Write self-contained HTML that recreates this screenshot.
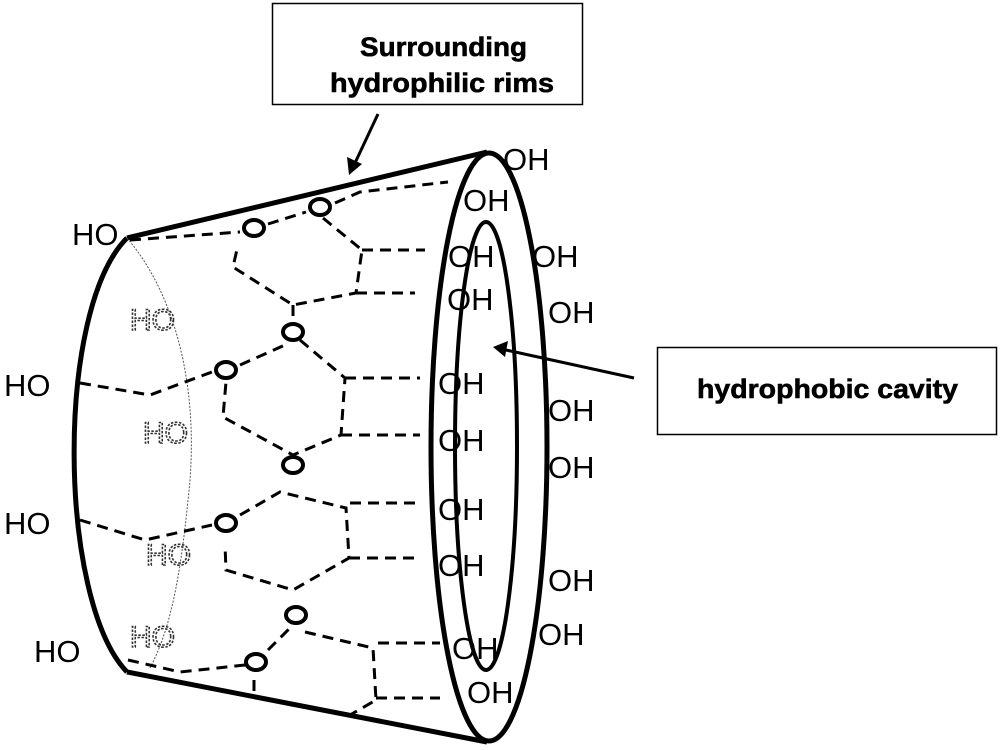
<!DOCTYPE html>
<html><head><meta charset="utf-8"><style>
html,body{margin:0;padding:0;background:#fff;width:1000px;height:750px;overflow:hidden}
svg{display:block}
.t{font-family:"Liberation Sans",sans-serif;font-size:31px;fill:#000}
.d{font-family:"Liberation Sans",sans-serif;font-size:30px;fill:none;stroke:#333;stroke-width:1.6;stroke-dasharray:2.5 1.5}
.b{font-family:"Liberation Sans Narrow","Liberation Sans",sans-serif;font-weight:bold;font-size:27px;fill:#000;stroke:#000;stroke-width:0.6}
.ds{fill:none;stroke:#000;stroke-width:3;stroke-dasharray:11 7}
.o{fill:none;stroke:#000;stroke-width:4}
</style></head><body>
<svg width="1000" height="750" viewBox="0 0 1000 750">
<rect x="272.5" y="3.5" width="310" height="101" fill="#fff" stroke="#000" stroke-width="1.5"/>
<text class="b" x="360" y="56" textLength="167" lengthAdjust="spacingAndGlyphs">Surrounding</text>
<text class="b" x="330" y="92" textLength="224" lengthAdjust="spacingAndGlyphs">hydrophilic rims</text>
<rect x="657.5" y="347.5" width="339" height="87" fill="#fff" stroke="#000" stroke-width="1.5"/>
<text class="b" x="697" y="398" textLength="261" lengthAdjust="spacingAndGlyphs">hydrophobic cavity</text>
<line x1="378" y1="114" x2="355" y2="163" stroke="#000" stroke-width="3"/>
<polygon points="349,175 347,157 362,164" fill="#000"/>
<line x1="634" y1="378" x2="506" y2="350" stroke="#000" stroke-width="3"/>
<polygon points="493,347 508,341 505,357" fill="#000"/>
<path d="M127,238 L487,152" stroke="#000" stroke-width="5" fill="none"/>
<path d="M127,672 L487,742" stroke="#000" stroke-width="5" fill="none"/>
<path d="M127,238 C55,310 58,600 127,672" stroke="#000" stroke-width="5" fill="none"/>
<path d="M127,238 C180,300 200,400 188,500 C180,580 170,630 150,668" stroke="#555" stroke-width="1" stroke-dasharray="2 1.5" fill="none"/>
<ellipse cx="489" cy="447" rx="58" ry="294" fill="none" stroke="#000" stroke-width="5"/>
<ellipse cx="486" cy="446" rx="31" ry="224" fill="none" stroke="#000" stroke-width="4"/>
<path class="ds" d="M130,240 L240,232 M268,224 L306,212 M335,203 L360,192 L448,182"/>
<path class="ds" d="M323,218 L362,250 L356,293 L293,305 L233,267 L238,245 M362,250 L425,250 M356,293 L415,293 M293,305 L293,320"/>
<path class="ds" d="M80,383 L150,395 L212,372 M240,365 L285,345 M300,340 L345,378 L341,435 L293,455 L223,417 L226,382 M345,378 L420,378 M341,435 L420,435"/>
<path class="ds" d="M80,520 L145,540 L212,525 M240,515 L280,492 L346,508 L349,558 L293,590 L226,570 L225,545 M350,503 L420,503 M349,558 L420,558"/>
<path class="ds" d="M128,660 L180,672 L245,665 M268,650 L290,628 M305,632 L373,648 L376,700 L350,715 M378,643 L440,643 M376,698 L440,698 M254,680 L254,695"/>
<ellipse class="o" cx="320" cy="207" rx="10" ry="8"/>
<ellipse class="o" cx="254" cy="228" rx="10" ry="8"/>
<ellipse class="o" cx="293" cy="332" rx="10" ry="8"/>
<ellipse class="o" cx="226" cy="370" rx="10" ry="8"/>
<ellipse class="o" cx="293" cy="465" rx="10" ry="8"/>
<ellipse class="o" cx="226" cy="523" rx="10" ry="8"/>
<ellipse class="o" cx="296" cy="615" rx="10" ry="8"/>
<ellipse class="o" cx="256" cy="662" rx="10" ry="8"/>
<text class="t" x="72" y="245">HO</text>
<text class="t" x="4" y="396">HO</text>
<text class="t" x="4" y="534">HO</text>
<text class="t" x="34" y="662">HO</text>
<text class="d" x="130" y="330">HO</text>
<text class="d" x="143" y="443">HO</text>
<text class="d" x="146" y="565">HO</text>
<text class="d" x="130" y="647">HO</text>
<text class="t" x="503" y="170">OH</text>
<text class="t" x="532" y="267">OH</text>
<text class="t" x="548" y="323">OH</text>
<text class="t" x="548" y="421">OH</text>
<text class="t" x="548" y="478">OH</text>
<text class="t" x="548" y="591">OH</text>
<text class="t" x="538" y="645">OH</text>
<text class="t" x="463" y="211">OH</text>
<text class="t" x="448" y="267">OH</text>
<text class="t" x="447" y="310">OH</text>
<text class="t" x="438" y="394">OH</text>
<text class="t" x="438" y="451">OH</text>
<text class="t" x="438" y="520">OH</text>
<text class="t" x="438" y="576">OH</text>
<text class="t" x="452" y="659">OH</text>
<text class="t" x="467" y="703">OH</text>
</svg>
</body></html>
